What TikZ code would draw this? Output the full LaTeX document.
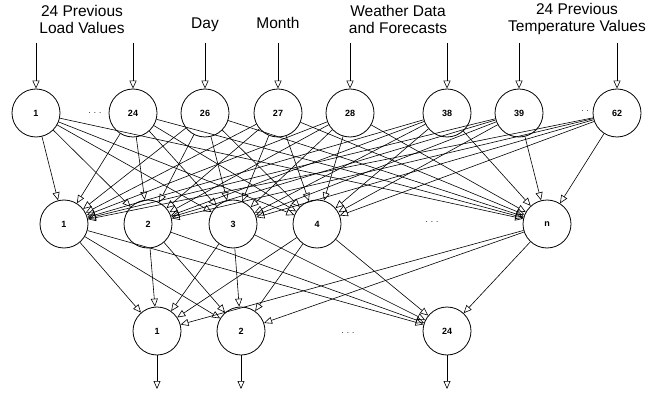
\documentclass[tikz,border=0pt]{standalone}
\usepackage{fontspec}
\setmainfont{Liberation Sans}
\usetikzlibrary{arrows.meta}
\begin{document}
\begin{tikzpicture}[x=1pt,y=-1pt,
  neuron/.style={circle,draw,line width=0.8pt,minimum size=48pt,inner sep=0pt,font=\fontsize{9}{10}\selectfont\bfseries},
  arr/.style={-{Triangle[open,length=8pt,width=7pt]},line width=0.6pt},
  lbl/.style={font=\fontsize{15.5}{17}\selectfont,align=center},
  dotsty/.style={font=\fontsize{8}{9}\selectfont}]
\useasboundingbox (0,0) rectangle (660,395);
% input layer
\node[neuron] (i1)  at (36,113) {1};
\node[neuron] (i24) at (133,113) {24};
\node[neuron] (i26) at (205,113) {26};
\node[neuron] (i27) at (278,113) {27};
\node[neuron] (i28) at (350,113) {28};
\node[neuron] (i38) at (447,113) {38};
\node[neuron] (i39) at (519,113) {39};
\node[neuron] (i62) at (617,113) {62};
% hidden layer
\node[neuron] (h1) at (64,224) {1};
\node[neuron] (h2) at (148,224) {2};
\node[neuron] (h3) at (233,224) {3};
\node[neuron] (h4) at (317,224) {4};
\node[neuron] (hn) at (547,224) {n};
% output layer
\node[neuron] (o1)  at (157,331) {1};
\node[neuron] (o2)  at (241,331) {2};
\node[neuron] (o24) at (447,331) {24};
% dots
\node[dotsty] (d1) at (95,113) {. . .};
\node[dotsty] (d2) at (585,111) {. .};
\node[dotsty] (d3) at (432,222) {. . .};
\node[dotsty] (d4) at (348,333) {. . .};
% labels
\node[lbl] (l1) at (82,19) {24 Previous\\Load Values};
\node[lbl] (l2) at (205,25) {Day};
\node[lbl] (l3) at (278,23) {Month};
\node[lbl] (l4) at (398,19) {Weather Data\\and Forecasts};
\node[lbl] (l5) at (577,19) {24 Previous\\Temperature Values};
% input arrows
\foreach \n/\x in {i1/36,i24/133,i26/205,i27/278,i28/350,i38/447,i39/519,i62/617}{
  \coordinate (t\n) at (\x,43);
  \draw[arr] (t\n) -- (\n);
}
% input to hidden
\foreach \a in {i1,i24,i26,i27,i28,i38,i39,i62}{
  \foreach \b in {h1,h2,h3,h4,hn}{
    \draw[arr] (\a) -- (\b);
  }
}
% hidden to output
\foreach \a in {h1,h2,h3,h4,hn}{
  \foreach \b in {o1,o2,o24}{
    \draw[arr] (\a) -- (\b);
  }
}
% output arrows
\foreach \n/\x in {o1/157,o2/241,o24/447}{
  \coordinate (b\n) at (\x,389);
  \draw[arr] (\n) -- (b\n);
}
\end{tikzpicture}
\end{document}
